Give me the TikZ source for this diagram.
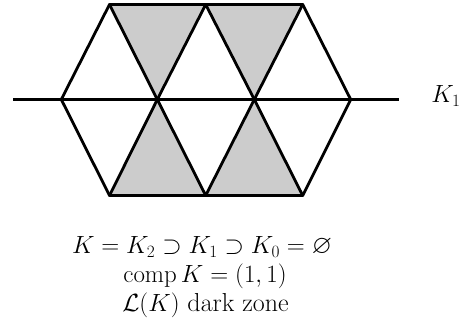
\documentclass[tikz,border=0pt]{standalone}
\usepackage{amsmath,amssymb}
\begin{document}
\begin{tikzpicture}[x=1pt,y=-1pt,
  edge/.style={line width=2.8pt,line join=round,line cap=round},
  shade/.style={fill=black!20},
  lbl/.style={inner sep=0pt,anchor=base,font=\fontsize{26}{30}\selectfont}]
\useasboundingbox (0,0) rectangle (474,320);
% vertices
\coordinate (t1) at (109.5,4.5);
\coordinate (t2) at (205.7,4.5);
\coordinate (t3) at (302.7,4.5);
\coordinate (m0) at (61.3,99.5);
\coordinate (m1) at (157.3,99.5);
\coordinate (m2) at (254.3,99.5);
\coordinate (m3) at (350.7,99.5);
\coordinate (b1) at (109.5,195.5);
\coordinate (b2) at (205.7,195.5);
\coordinate (b3) at (302.7,195.5);
\coordinate (lL) at (13,99.5);
\coordinate (lR) at (399,99.5);
% shading
\fill[shade] (t1) -- (t2) -- (m1) -- cycle;
\fill[shade] (t2) -- (t3) -- (m2) -- cycle;
\fill[shade] (m1) -- (b1) -- (b2) -- cycle;
\fill[shade] (m2) -- (b2) -- (b3) -- cycle;
% edges
\draw[edge] (t1) -- (t3) -- (m3) -- (b3) -- (b1) -- (m0) -- cycle;
\draw[edge] (t1) -- (m1) -- (b2) -- (m2) -- (t3);
\draw[edge] (b1) -- (m1) -- (t2) -- (m2) -- (b3);
\draw[edge,line cap=butt] (lL) -- (lR);
\node[lbl] (k1) at (446,103) {$K_1$};
\node[lbl] (l1) at (202,254) {$K=K_2\supset K_1\supset K_0=\varnothing$};
\node[lbl] (l2) at (205,283) {$\operatorname{comp}K=(1,1)$};
\node[lbl] (l3) at (205.5,312) {$\mathcal{L}(K)$ dark zone};
\end{tikzpicture}
\end{document}
